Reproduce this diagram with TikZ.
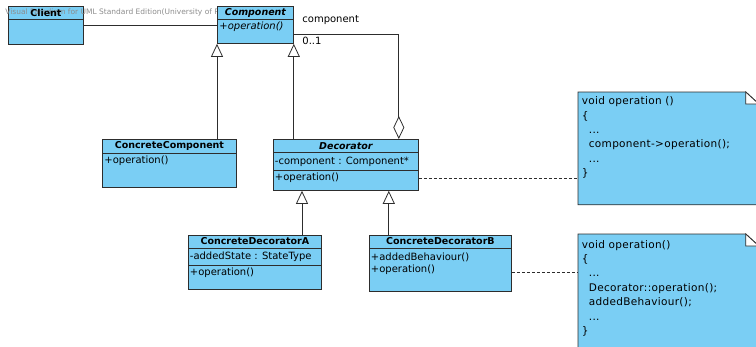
\documentclass[tikz,border=0pt]{standalone}
\usepackage{fontspec}
\setmainfont{DejaVu Sans}
\newfontfamily\notefont[LetterSpace=3]{DejaVu Sans}
\usetikzlibrary{arrows.meta}

\definecolor{umlblue}{RGB}{122,206,244}
\definecolor{umlline}{RGB}{45,45,45}

\begin{document}
\begin{tikzpicture}[x=1pt, y=-1pt, line width=0.8pt,
    classbox/.style={draw=umlline, fill=umlblue, anchor=north west, inner sep=0pt},
    classname/.style={font=\fontsize{9.5}{11}\selectfont\bfseries, inner sep=0pt},
    member/.style={font=\fontsize{10}{11}\selectfont, anchor=west, inner sep=0pt},
    lbl/.style={font=\fontsize{10}{11}\selectfont, anchor=west, inner sep=0pt},
    notebox/.style={anchor=north west, inner sep=0pt},
    notetext/.style={font=\notefont\fontsize{10.5}{14.4}\selectfont, align=left,
        anchor=north west, inner sep=0pt},
    inherit/.style={draw=umlline, -{Triangle[open, length=13pt, width=12pt]}},
    aggregate/.style={draw=umlline, {Diamond[open, length=23pt, width=11pt]}-},
    notelink/.style={draw=umlline, dash pattern=on 3pt off 2pt}]

    \useasboundingbox (0,0) rectangle (756,346);

    % Client
    \node[classbox, minimum width=75pt, minimum height=38pt] (client) at (8,6) {};
    \draw[umlline] (client.north west) ++(0,13) -- ++(75,0);
    \node[anchor=west, inner sep=0pt, text=black!45, font=\fontsize{7.5}{8}\selectfont]
        (mark) at (5,12) {Visual Paradigm for UML Standard Edition(University of Portsmouth)};
    \node[classname] (clientname) at ([yshift=-6.5pt]client.north) {Client};

    % Component
    \node[classbox, minimum width=76pt, minimum height=37pt] (comp) at (217,6) {};
    \draw[umlline] (comp.north west) ++(0,13) -- ++(76,0);
    \node[classname, font=\fontsize{9.5}{11}\selectfont\bfseries\itshape]
        (compname) at ([yshift=-6.5pt]comp.north) {Component};
    \node[member, font=\fontsize{10}{11}\selectfont\itshape] (compop) at (219,27) {+operation()};

    % ConcreteComponent
    \node[classbox, minimum width=134pt, minimum height=48pt] (cc) at (102,139) {};
    \draw[umlline] (cc.north west) ++(0,14) -- ++(134,0);
    \node[classname] (ccname) at ([yshift=-7pt]cc.north) {ConcreteComponent};
    \node[member] (ccop) at (104,161) {+operation()};

    % Decorator
    \node[classbox, minimum width=145pt, minimum height=51pt] (dec) at (273,139) {};
    \draw[umlline] (dec.north west) ++(0,13.5) -- ++(145,0)
        (dec.north west) ++(0,31) -- ++(145,0);
    \node[classname, font=\fontsize{9.5}{11}\selectfont\bfseries\itshape]
        (decname) at ([yshift=-7pt]dec.north) {Decorator};
    \node[member] (decattr) at (274.5,161.5) {-component : Component*};
    \node[member] (decop) at (274.5,178) {+operation()};

    % ConcreteDecoratorA
    \node[classbox, minimum width=133pt, minimum height=54pt] (cda) at (188,235) {};
    \draw[umlline] (cda.north west) ++(0,13) -- ++(133,0)
        (cda.north west) ++(0,30.5) -- ++(133,0);
    \node[classname] (cdaname) at ([yshift=-6.5pt]cda.north) {ConcreteDecoratorA};
    \node[member] (cdaattr) at (189.5,256.5) {-addedState : StateType};
    \node[member] (cdaop) at (189.5,273) {+operation()};

    % ConcreteDecoratorB
    \node[classbox, minimum width=142pt, minimum height=56pt] (cdb) at (369,235) {};
    \draw[umlline] (cdb.north west) ++(0,13) -- ++(142,0);
    \node[classname] (cdbname) at ([yshift=-6.5pt]cdb.north) {ConcreteDecoratorB};
    \node[member] (cdbadd) at (370.5,257) {+addedBehaviour()};
    \node[member] (cdbop) at (370.5,269.5) {+operation()};

    % notes
    \node[notebox, minimum width=180pt, minimum height=112pt] (note1) at (578,92) {};
    \filldraw[draw=umlline, fill=umlblue] (note1.north west) -- ([xshift=-13pt]note1.north east)
        -- ([yshift=-12pt]note1.north east) -- (note1.south east) -- (note1.south west) -- cycle;
    \filldraw[draw=umlline, fill=white] ([xshift=-13pt]note1.north east)
        -- ([xshift=-13pt, yshift=-12pt]note1.north east) -- ([yshift=-12pt]note1.north east) -- cycle;
    \node[notetext] (note1text) at (581.5,96.3) {void operation ()\\
        \{\\
        \hspace*{7pt}...\\
        \hspace*{7pt}component->operation();\\
        \hspace*{7pt}...\\
        \}};

    \node[notebox, minimum width=180pt, minimum height=120pt] (note2) at (578,234) {};
    \filldraw[draw=umlline, fill=umlblue] (note2.north west) -- ([xshift=-13pt]note2.north east)
        -- ([yshift=-12pt]note2.north east) -- (note2.south east) -- (note2.south west) -- cycle;
    \filldraw[draw=umlline, fill=white] ([xshift=-13pt]note2.north east)
        -- ([xshift=-13pt, yshift=-12pt]note2.north east) -- ([yshift=-12pt]note2.north east) -- cycle;
    \node[notetext] (note2text) at (581.5,239.7) {void operation()\\
        \{\\
        \hspace*{7pt}...\\
        \hspace*{7pt}Decorator::operation();\\
        \hspace*{7pt}addedBehaviour();\\
        \hspace*{7pt}...\\
        \}};

    % connectors
    \draw[umlline] (client.east) -- (client.east -| comp.west);
    \draw[inherit] (cc.north -| comp.south west) -- (comp.south west);
    \draw[inherit] (dec.north -| comp.south east) -- (comp.south east);
    \coordinate (genA) at ([xshift=29pt]dec.south west);
    \coordinate (genB) at ([xshift=-30pt]dec.south east);
    \draw[inherit] (cda.north -| genA) -- (genA);
    \draw[inherit] (cdb.north -| genB) -- (genB);
    \draw[aggregate] ([xshift=-20pt]dec.north east) |- ([yshift=-9.5pt]comp.east);
    \node[lbl] (rolelbl) at (302,20) {component};
    \node[lbl] (multlbl) at (302,41) {0..1};
    \draw[notelink] (dec.east |- decop) -- (note1.west |- decop);
    \draw[notelink] (cdb.east |- cdbop.base) -- (note2.west |- cdbop.base);
\end{tikzpicture}
\end{document}
